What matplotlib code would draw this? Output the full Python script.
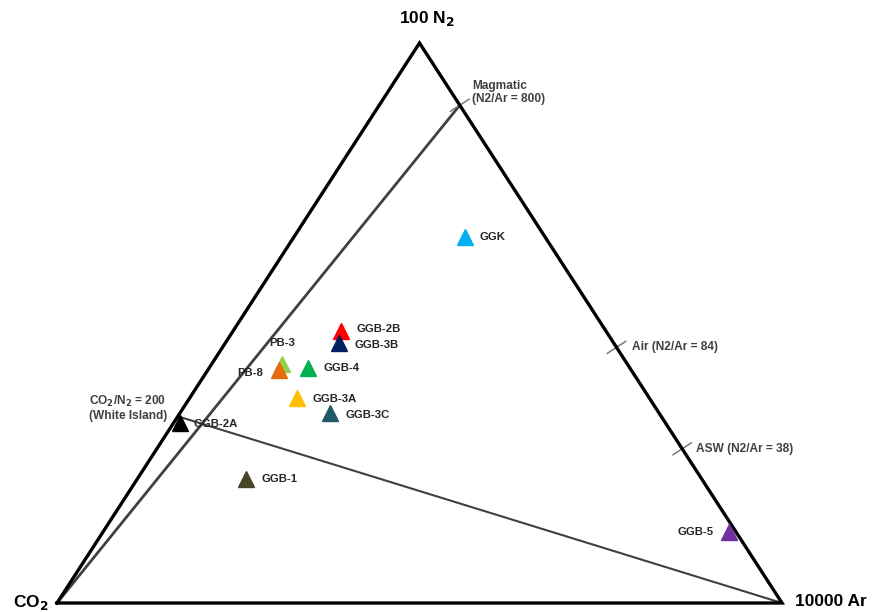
import matplotlib.pyplot as plt
import numpy as np

plt.rcParams['font.family'] = ['Liberation Sans', 'DejaVu Sans']

# Gas compositions as fractions of (CO2, 100 N2, 10000 Ar)
samples = ["GGK", "GGB-2B", "GGB-3B", "PB-3", "PB-8", "GGB-4",
           "GGB-3A", "GGB-3C", "GGB-2A", "GGB-1", "GGB-5"]
co2 = [0.110, 0.365, 0.379, 0.476, 0.486, 0.444, 0.486, 0.454, 0.670, 0.629, 0.010]
n2 = [0.654, 0.486, 0.464, 0.427, 0.416, 0.420, 0.366, 0.339, 0.322, 0.221, 0.127]
ar = [0.236, 0.149, 0.157, 0.097, 0.098, 0.136, 0.148, 0.207, 0.008, 0.150, 0.863]
colors = ["#00B0F0", "#FF0000", "#002060", "#92D050", "#E46C0A", "#00B050",
          "#FFC000", "#215968", "#000000", "#494529", "#7030A0"]

# Reference ratios
magmatic_n2_ar = 800
air_n2_ar = 84
asw_n2_ar = 38
white_island_co2_n2 = 200


def to_xy(c, n, a):
    total = c + n + a
    n = n / total
    a = a / total
    return a + n / 2, n


def edge_point(ratio):
    # point on the N2-Ar side for a given N2/Ar ratio (100 N2 vs 10000 Ar scaling)
    r = ratio * 100 / 10000
    return to_xy(0, r, 1)


fig = plt.figure(figsize=(8.72, 6.12), dpi=100)
ax = fig.add_axes([57 / 872, 9 / 612, 725 / 872, 560 / 612])
ax.set_xlim(0, 1)
ax.set_ylim(0, 1)
ax.axis("off")

gray = "#404040"

# magmatic line from CO2 corner
mx, my = edge_point(magmatic_n2_ar)
ax.plot([0, mx], [0, my], color=gray, lw=2.0, clip_on=False, zorder=2)

# White Island to Ar corner
wn = 100 / (white_island_co2_n2 + 100)
wx, wy = to_xy(1 - wn, wn, 0)
ax.plot([wx, 1], [wy, 0], color=gray, lw=1.5, clip_on=False, zorder=2)

# triangle frame
ax.plot([0, 1, 0.5, 0], [0, 0, 1, 0], color="black", lw=2.4,
        solid_joinstyle="miter", clip_on=False, zorder=3)

# tick marks across the N2-Ar side
px_x, px_y = 725, 560
d = np.array([560.0, 362.5])
d = d / np.linalg.norm(d) * 11
for ratio in [magmatic_n2_ar, air_n2_ar, asw_n2_ar]:
    ex, ey = edge_point(ratio)
    ax.plot([ex - d[0] / px_x, ex + d[0] / px_x], [ey - d[1] / px_y, ey + d[1] / px_y],
            color="#707070", lw=1.0, clip_on=False, zorder=2)

# samples
for name, c, n, a, col in zip(samples, co2, n2, ar, colors):
    x, y = to_xy(c, n, a)
    ax.plot(x, y, marker="^", ms=11, color=col, mec=col, ls="none",
            clip_on=False, zorder=5)

label_offsets = {
    "GGK": (10, 0, "left"), "GGB-2B": (11, 1, "left"), "GGB-3B": (11, -1, "left"),
    "PB-3": (0, 15, "center"), "PB-8": (-11, -2, "right"), "GGB-4": (11, 0, "left"),
    "GGB-3A": (11, -1, "left"), "GGB-3C": (11, -1, "left"), "GGB-2A": (10, -1, "left"),
    "GGB-1": (11, 0, "left"), "GGB-5": (-11, 0, "right"),
}
for name, c, n, a in zip(samples, co2, n2, ar):
    x, y = to_xy(c, n, a)
    dx, dy, ha = label_offsets[name]
    ax.annotate(name, (x, y), xytext=(dx, dy), textcoords="offset points",
                ha=ha, va="center", fontsize=8.2, fontweight="bold",
                color="#262626", zorder=6, annotation_clip=False)

# corner labels
corner_style = dict(fontsize=12.5, fontweight="bold", va="center")
fig.text(427 / 872, 1 - 19 / 612, r"100 N$_\mathbf{2}$", ha="center", **corner_style)
fig.text(49 / 872, 1 - 602 / 612, r"CO$_\mathbf{2}$", ha="right", **corner_style)
fig.text(795 / 872, 1 - 602 / 612, "10000 Ar", ha="left", **corner_style)

# reference labels
ref_style = dict(fontsize=8.6, fontweight="bold", color="#404040", zorder=6)
ax.annotate("Magmatic\n(N2/Ar = 800)", (mx, my), xytext=(9, 9),
            textcoords="offset points", ha="left", va="center",
            linespacing=1.1, annotation_clip=False, **ref_style)
ex, ey = edge_point(air_n2_ar)
ax.annotate("Air (N2/Ar = 84)", (ex, ey), xytext=(11, 0),
            textcoords="offset points", ha="left", va="center",
            annotation_clip=False, **ref_style)
ex, ey = edge_point(asw_n2_ar)
ax.annotate("ASW (N2/Ar = 38)", (ex, ey), xytext=(10, 0),
            textcoords="offset points", ha="left", va="center",
            annotation_clip=False, **ref_style)
ax.annotate("CO$_\\mathbf{2}$/N$_\\mathbf{2}$ = 200\n(White Island)", (wx, wy),
            xytext=(-36, 6), textcoords="offset points", ha="center",
            va="center", linespacing=1.1, annotation_clip=False, **ref_style)

fig.savefig("out.png", dpi=100)
